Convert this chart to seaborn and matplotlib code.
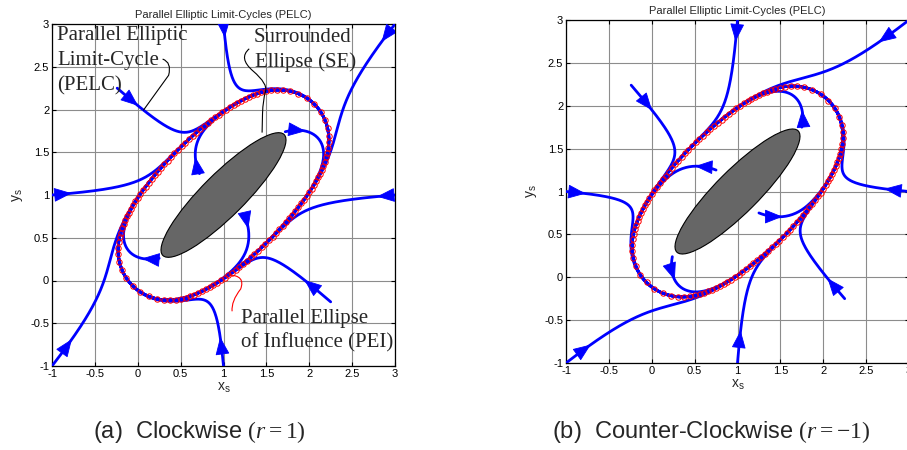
import numpy as np
import pandas as pd
import matplotlib
matplotlib.use("Agg")
import matplotlib.pyplot as plt
from matplotlib.patches import Ellipse, FancyArrowPatch, PathPatch
from matplotlib.path import Path
import seaborn as sns

# ---------------------------------------------------------------------------
# Geometry: surrounded ellipse (SE) and its parallel ellipse of influence (PEI)
# ---------------------------------------------------------------------------
se_center = (1.0, 1.0)
se_semi_axes = (1.0, 0.25)
se_angle_deg = 45.0
pei_margin = 0.5
n_pei_marks = 120
gain = 3.0          # attraction towards the limit-cycle
path_length = 5.5   # arc length integrated for each trajectory

ticks = [-1, -0.5, 0, 0.5, 1, 1.5, 2, 2.5, 3]
tick_labels = ["-1", "-0.5", "0", "0.5", "1", "1.5", "2", "2.5", "3"]

# initial conditions, clockwise case (r = 1)
cw_start_x = [-1.0, -1.0, 1.0, 2.25, 3.0, 3.0, 1.0, -0.24, 0.72, 1.72, 0.25, 1.25]
cw_start_y = [1.0, -1.0, -1.0, -0.25, 1.0, 3.0, 3.0, 2.25, 1.25, 1.74, 0.26, 0.75]
cw_arrow_s = [0.23, 0.39, 0.34, 0.40, 0.21, 0.26, 0.16, 0.32, 0.20, 0.24, 0.20, 0.15]

# initial conditions, counter-clockwise case (r = -1)
ccw_start_x = [-1.0, -1.0, 1.0, 2.25, 3.0, 3.0, 1.0, -0.24, 0.75, 1.75, 0.24, 1.25]
ccw_start_y = [1.0, -1.0, -1.0, -0.25, 1.0, 3.0, 3.0, 2.24, 1.25, 1.75, 0.24, 0.75]
ccw_arrow_s = [0.23, 0.36, 0.385, 0.31, 0.29, 0.44, 0.25, 0.38, 0.25, 0.20, 0.28, 0.28]

phi = np.deg2rad(se_angle_deg)
cphi, sphi = np.cos(phi), np.sin(phi)
cx, cy = se_center
a_se, b_se = se_semi_axes


def pei_local(t):
    """Parallel curve of the SE (local frame) at distance pei_margin."""
    ex, ey = a_se * np.cos(t), b_se * np.sin(t)
    nx, ny = b_se * np.cos(t), a_se * np.sin(t)
    nn = np.hypot(nx, ny)
    return ex + pei_margin * nx / nn, ey + pei_margin * ny / nn


def to_global(u, v):
    return cx + cphi * u - sphi * v, cy + sphi * u + cphi * v


# polar description of the PEI around the SE centre
_tt = np.linspace(0, 2 * np.pi, 6000, endpoint=False)
_pu, _pv = pei_local(_tt)
_th = np.arctan2(_pv, _pu)
_order = np.argsort(_th)
TH, RR = _th[_order], np.hypot(_pu, _pv)[_order]


def rho(px, py):
    dx, dy = px - cx, py - cy
    u = cphi * dx + sphi * dy
    v = -sphi * dx + cphi * dy
    R = np.interp(np.arctan2(v, u), TH, RR, period=2 * np.pi)
    return np.hypot(dx, dy) / R


def field(px, py, r):
    h = 1e-5
    gx = (rho(px + h, py) - rho(px - h, py)) / (2 * h)
    gy = (rho(px, py + h) - rho(px, py - h)) / (2 * h)
    g = np.hypot(gx, gy)
    tx, ty = r * gy / g, -r * gx / g
    dx, dy = px - cx, py - cy
    dist = np.hypot(dx, dy)
    q = rho(px, py)
    fx = dist * tx + gain * (1 - q ** 2) * dx
    fy = dist * ty + gain * (1 - q ** 2) * dy
    n = np.hypot(fx, fy)
    return fx / n, fy / n


def integrate(x0, y0, r, ds=0.01):
    x = np.array(x0, float)
    y = np.array(y0, float)
    steps = int(path_length / ds)
    X = np.empty((steps + 1, x.size))
    Y = np.empty((steps + 1, x.size))
    X[0], Y[0] = x, y
    for i in range(steps):
        k1 = field(x, y, r)
        k2 = field(x + 0.5 * ds * k1[0], y + 0.5 * ds * k1[1], r)
        k3 = field(x + 0.5 * ds * k2[0], y + 0.5 * ds * k2[1], r)
        k4 = field(x + ds * k3[0], y + ds * k3[1], r)
        x = x + ds / 6 * (k1[0] + 2 * k2[0] + 2 * k3[0] + k4[0])
        y = y + ds / 6 * (k1[1] + 2 * k2[1] + 2 * k3[1] + k4[1])
        X[i + 1], Y[i + 1] = x, y
    return X, Y, ds


# ---------------------------------------------------------------------------
sns.set_theme(style="ticks")
plt.rcParams["font.family"] = ["Liberation Sans", "DejaVu Sans"]
plt.rcParams["mathtext.fontset"] = "custom"
plt.rcParams["mathtext.rm"] = "Liberation Serif"
plt.rcParams["mathtext.it"] = "Liberation Serif:italic"
plt.rcParams["mathtext.sf"] = "Liberation Sans"

fig = plt.figure(figsize=(9.07, 4.5), dpi=100)
ax_cw = fig.add_axes([52 / 907, 84 / 450, 343 / 907, 342 / 450])
ax_ccw = fig.add_axes([566 / 907, 87 / 450, 343 / 907, 343 / 450])

serif = "Liberation Serif"


def draw_panel(ax, sx, sy, arrow_s, r):
    ax.set_xlim(-1, 3)
    ax.set_ylim(-1, 3)
    ax.set_xticks(ticks)
    ax.set_yticks(ticks)
    ax.set_xticklabels(tick_labels)
    ax.set_yticklabels(tick_labels)
    ax.grid(True, color="#8c8c8c", lw=0.8)
    ax.set_axisbelow(True)
    ax.tick_params(direction="in", length=3, width=0.8, labelsize=8,
                   top=True, right=True, pad=2, colors="black")
    for sp in ax.spines.values():
        sp.set_color("black")
        sp.set_linewidth(0.9)
    ax.set_title("Parallel Elliptic Limit-Cycles (PELC)", fontsize=8, pad=4)

    # obstacle
    ax.add_patch(Ellipse(se_center, 2 * a_se, 2 * b_se, angle=se_angle_deg,
                         facecolor="#666666", edgecolor="black", lw=0.8, zorder=2))

    # trajectories
    X, Y, ds = integrate(sx, sy, r)
    n_steps, n_traj = X.shape
    df = pd.DataFrame({
        "x": X.T.ravel(),
        "y": Y.T.ravel(),
        "traj": np.repeat(np.arange(n_traj), n_steps),
    })
    sns.lineplot(data=df, x="x", y="y", units="traj", estimator=None, sort=False,
                 color="#0000ff", lw=2.0, ax=ax, zorder=3, legend=False)

    # direction arrows
    for j in range(n_traj):
        k = int(round(arrow_s[j] / ds))
        kb = max(k - 10, 0)
        ax.add_patch(FancyArrowPatch(
            (X[kb, j], Y[kb, j]), (X[k, j], Y[k, j]),
            arrowstyle="-|>,head_length=0.95,head_width=0.38",
            mutation_scale=12, color="#0000ff", lw=0.6,
            shrinkA=0, shrinkB=0, zorder=4))

    # parallel ellipse of influence
    t = np.linspace(0, 2 * np.pi, n_pei_marks, endpoint=False)
    gx, gy = to_global(*pei_local(t))
    ax.plot(gx, gy, ls="none", marker="o", ms=3.9, mfc="none", mec="#ff0000",
            mew=0.7, zorder=5)
    ax.set_xlabel(r"$\mathsf{x_s}$", fontsize=10, labelpad=1)
    ax.set_ylabel(r"$\mathsf{y_s}$", fontsize=10, labelpad=4)


draw_panel(ax_cw, cw_start_x, cw_start_y, cw_arrow_s, 1)
draw_panel(ax_ccw, ccw_start_x, ccw_start_y, ccw_arrow_s, -1)

# annotations of the clockwise panel
fs = 15
for txt, x, y in [("Parallel Elliptic", -0.94, 2.813),
                  ("Limit-Cycle", -0.94, 2.52),
                  ("(PELC)", -0.94, 2.228),
                  ("Surrounded", 1.356, 2.79),
                  ("Ellipse (SE)", 1.367, 2.497),
                  ("Parallel Ellipse", 1.204, -0.497),
                  ("of Influence (PEI)", 1.204, -0.789)]:
    ax_cw.text(x, y, txt, family=serif, fontsize=fs, ha="left", va="baseline",
               zorder=6)

leaders = [
    ([(0.29, 2.59), (0.40, 2.55), (0.36, 2.40), (0.065, 1.99)],
     [Path.MOVETO, Path.CURVE3, Path.CURVE3, Path.LINETO], "black"),
    ([(1.30, 2.71), (1.17, 2.60), (1.345, 2.45), (1.52, 2.30), (1.49, 2.21),
      (1.46, 2.12), (1.455, 1.95), (1.45, 1.73)],
     [Path.MOVETO, Path.CURVE3, Path.CURVE3, Path.CURVE3, Path.CURVE3,
      Path.CURVE3, Path.CURVE3, Path.LINETO], "black"),
    ([(1.06, 0.065), (1.26, 0.06), (1.20, -0.10), (1.09, -0.24), (1.10, -0.36)],
     [Path.MOVETO, Path.CURVE3, Path.CURVE3, Path.CURVE3, Path.CURVE3], "#ff0000"),
]
for verts, codes, col in leaders:
    ax_cw.add_patch(PathPatch(Path(verts, codes), fill=False, edgecolor=col,
                              lw=0.8, zorder=6))

# captions
fig.text(199.5 / 907, 12 / 450, r"(a)  Clockwise $(r=1)$", fontsize=17,
         ha="center", va="baseline")
fig.text(711.5 / 907, 12 / 450, r"(b)  Counter-Clockwise $(r=-1)$", fontsize=17,
         ha="center", va="baseline")

fig.savefig("out.png", dpi=100)
